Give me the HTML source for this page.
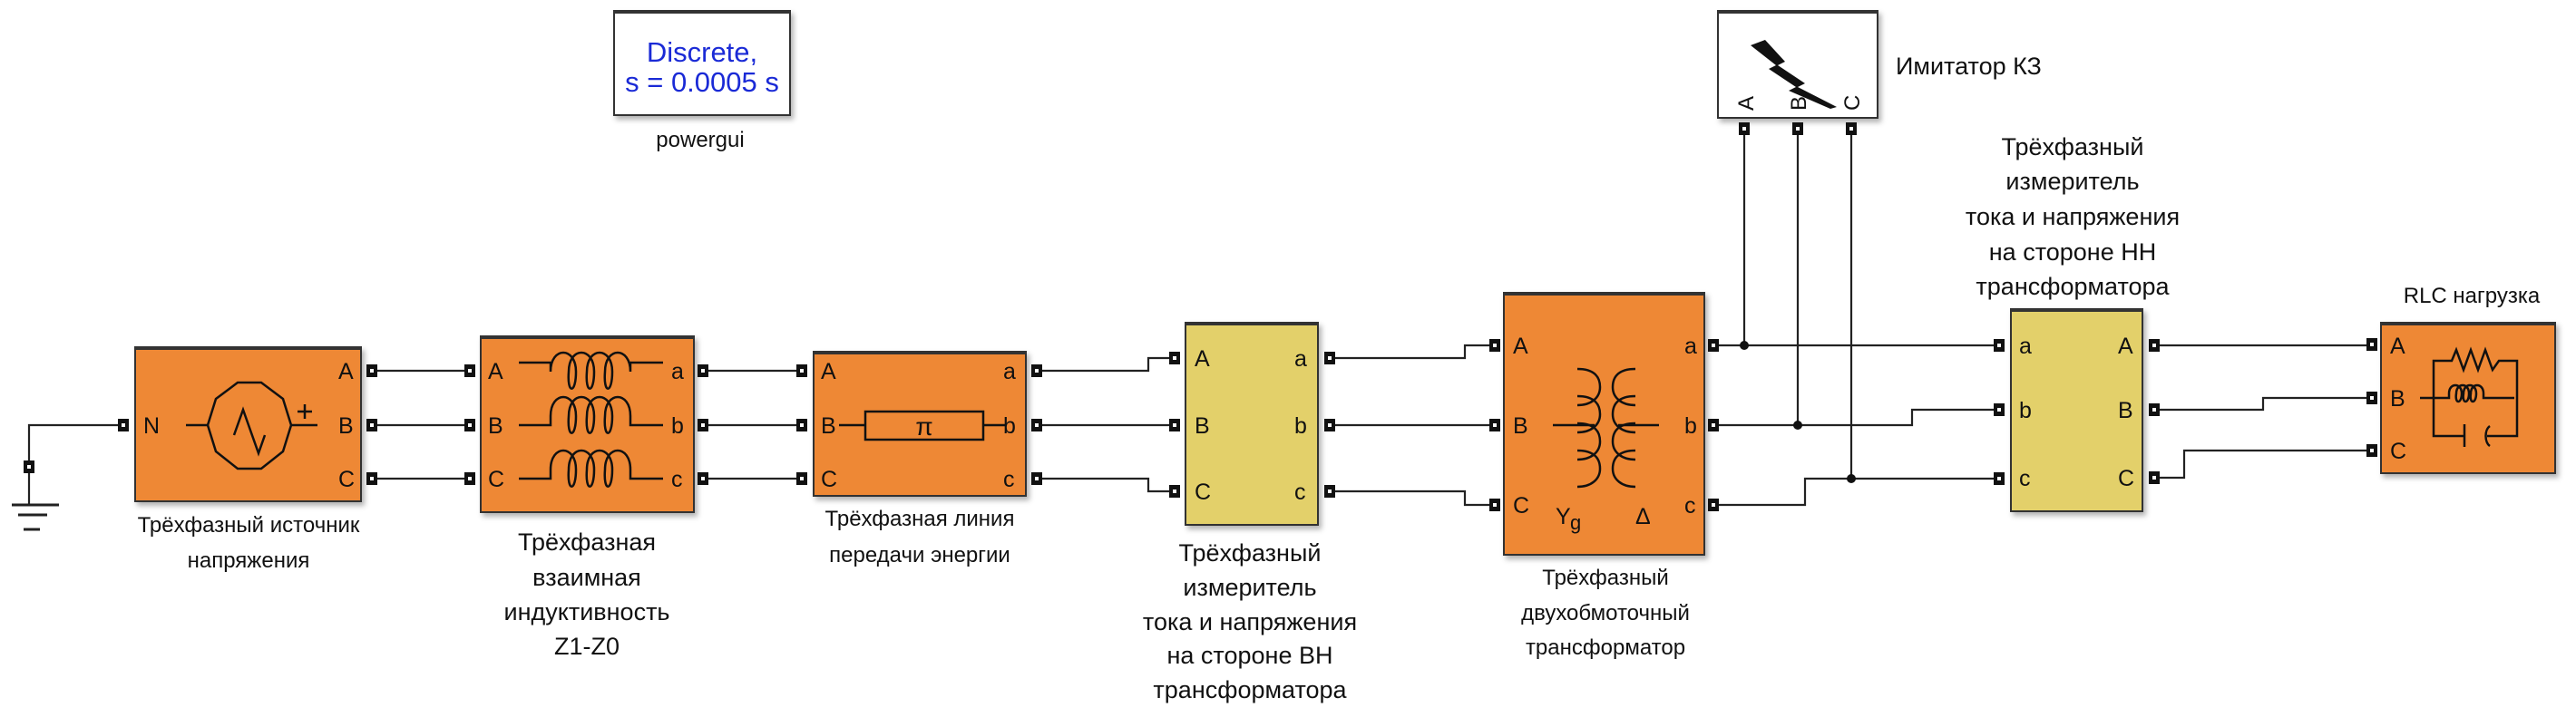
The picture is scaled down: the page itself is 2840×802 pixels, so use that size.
<!DOCTYPE html>
<html><head><meta charset="utf-8"><style>
html,body{margin:0;padding:0;background:#fff;}
svg{display:block;}
text{font-family:"Liberation Sans","DejaVu Sans",sans-serif;fill:#111;}
.lbl{font-size:24px;text-anchor:middle;}
.big{font-size:27px;text-anchor:middle;}
.pl{font-size:25px;}
</style></head><body>
<svg width="2840" height="802" viewBox="0 0 2840 802" xmlns="http://www.w3.org/2000/svg">
<defs>
<filter id="sh" x="-10%" y="-10%" width="130%" height="130%"><feDropShadow dx="3" dy="4" stdDeviation="3" flood-color="#000" flood-opacity="0.3"/></filter>
<g id="p"><rect x="-6" y="-7" width="12" height="14" fill="#111"/><rect x="-2" y="-2" width="4" height="4" fill="#fff"/></g>
</defs>

<!-- wires -->
<g stroke="#222" stroke-width="2.2" fill="none">
<polyline points="136,469 32,469 32,515"/>
<line x1="32" y1="522" x2="32" y2="557"/>
<line x1="410" y1="409" x2="518" y2="409"/>
<line x1="410" y1="469" x2="518" y2="469"/>
<line x1="410" y1="528" x2="518" y2="528"/>
<line x1="775" y1="409" x2="884" y2="409"/>
<line x1="775" y1="469" x2="884" y2="469"/>
<line x1="775" y1="528" x2="884" y2="528"/>
<polyline points="1143,409 1266,409 1266,395 1295,395"/>
<line x1="1143" y1="469" x2="1295" y2="469"/>
<polyline points="1143,528 1266,528 1266,542 1295,542"/>
<polyline points="1466,395 1615,395 1615,381 1648,381"/>
<line x1="1466" y1="469" x2="1648" y2="469"/>
<polyline points="1466,542 1615,542 1615,557 1648,557"/>
<line x1="1889" y1="381" x2="2204" y2="381"/>
<polyline points="1889,469 2108,469 2108,452 2204,452"/>
<polyline points="1889,557 1990,557 1990,528 2204,528"/>
<line x1="1923" y1="148" x2="1923" y2="381"/>
<line x1="1982" y1="148" x2="1982" y2="469"/>
<line x1="2041" y1="148" x2="2041" y2="528"/>
<line x1="2375" y1="381" x2="2615" y2="381"/>
<polyline points="2375,452 2495,452 2495,439 2615,439"/>
<polyline points="2375,527 2408,527 2408,497 2615,497"/>
</g>
<g fill="#111"><circle cx="1923" cy="381" r="5"/><circle cx="1982" cy="469" r="5"/><circle cx="2041" cy="528" r="5"/></g>
<!-- ground -->
<g stroke="#222" stroke-width="3"><line x1="13" y1="557" x2="65" y2="557"/><line x1="20" y1="568" x2="52" y2="568"/><line x1="26" y1="584" x2="44" y2="584"/></g>
<use href="#p" x="32" y="515"/>

<!-- powergui -->
<rect x="677" y="12" width="194" height="115" fill="#fff" stroke="#333" stroke-width="2" filter="url(#sh)"/>
<rect x="677" y="11" width="194" height="4" fill="#333"/>
<svg x="678" y="13" width="192" height="113"><text x="96" y="55" style="font-size:31px;fill:#1a2ad6;text-anchor:middle">Discrete,</text><text x="96" y="88" style="font-size:31px;fill:#1a2ad6;text-anchor:middle">s = 0.0005 s</text></svg>
<text x="772" y="162" class="lbl">powergui</text>

<!-- fault -->
<rect x="1894" y="12" width="176" height="118" fill="#fff" stroke="#333" stroke-width="2" filter="url(#sh)"/>
<rect x="1894" y="11" width="176" height="4" fill="#333"/>
<polygon points="1930,50 1946,44 1968,68 1960,72 1990,92 1982,96 2025,118 2018,120 1972,100 1980,96 1950,76 1958,72" fill="#111"/>
<text transform="translate(1933,122) rotate(-90)" style="font-size:24px">A</text>
<text transform="translate(1991,122) rotate(-90)" style="font-size:24px">B</text>
<text transform="translate(2050,122) rotate(-90)" style="font-size:24px">C</text>
<use href="#p" x="1923" y="142"/><use href="#p" x="1982" y="142"/><use href="#p" x="2041" y="142"/>
<text x="2090" y="82" style="font-size:27px">Имитатор КЗ</text>

<!-- source -->
<rect x="149" y="383" width="249" height="170" fill="#ee8834" stroke="#333" stroke-width="2" filter="url(#sh)"/>
<rect x="149" y="382" width="249" height="4" fill="#333"/>
<g stroke="#111" stroke-width="2.5" fill="none">
<polygon points="262,422 288,422 312,440 321,469 312,498 288,517 262,517 238,498 229,469 238,440"/>
<line x1="205" y1="469" x2="229" y2="469"/><line x1="321" y1="469" x2="350" y2="469"/>
<path d="M258,480 L268,452 L285,500 L292,480"/>
<line x1="336" y1="446" x2="336" y2="462"/><line x1="328" y1="454" x2="344" y2="454"/>
</g>
<text x="158" y="478" class="pl">N</text>
<text x="373" y="418" class="pl">A</text><text x="373" y="478" class="pl">B</text><text x="373" y="537" class="pl">C</text>
<use href="#p" x="136" y="469"/><use href="#p" x="410" y="409"/><use href="#p" x="410" y="469"/><use href="#p" x="410" y="528"/>
<text x="274" y="587" class="lbl">Трёхфазный источник</text>
<text x="274" y="626" class="lbl">напряжения</text>

<!-- mutual -->
<rect x="530" y="371" width="235" height="194" fill="#ee8834" stroke="#333" stroke-width="2" filter="url(#sh)"/>
<rect x="530" y="370" width="235" height="4" fill="#333"/>
<g stroke="#111" stroke-width="2.5" fill="none">
<path d="M572,400 h35 v10 c0,-28 28,-28 28,0 c0,25 -10,25 -8,0 c0,-28 28,-28 28,0 c0,25 -10,25 -8,0 c0,-28 28,-28 28,0 c0,25 -10,25 -8,0 c0,-28 28,-28 28,0 v-10 h36"/>
<path d="M572,469 h35 v-10 c0,-28 28,-28 28,0 c0,25 -10,25 -8,0 c0,-28 28,-28 28,0 c0,25 -10,25 -8,0 c0,-28 28,-28 28,0 c0,25 -10,25 -8,0 c0,-28 28,-28 28,0 v10 h36"/>
<path d="M572,528 h35 v-10 c0,-28 28,-28 28,0 c0,25 -10,25 -8,0 c0,-28 28,-28 28,0 c0,25 -10,25 -8,0 c0,-28 28,-28 28,0 c0,25 -10,25 -8,0 c0,-28 28,-28 28,0 v10 h36"/>
</g>
<text x="538" y="418" class="pl">A</text><text x="538" y="478" class="pl">B</text><text x="538" y="537" class="pl">C</text>
<text x="740" y="418" class="pl">a</text><text x="740" y="478" class="pl">b</text><text x="740" y="537" class="pl">c</text>
<use href="#p" x="518" y="409"/><use href="#p" x="518" y="469"/><use href="#p" x="518" y="528"/>
<use href="#p" x="775" y="409"/><use href="#p" x="775" y="469"/><use href="#p" x="775" y="528"/>
<text x="647" y="607" class="big">Трёхфазная</text>
<text x="647" y="646" class="big">взаимная</text>
<text x="647" y="684" class="big">индуктивность</text>
<text x="647" y="722" class="big">Z1-Z0</text>

<!-- line -->
<rect x="897" y="388" width="234" height="159" fill="#ee8834" stroke="#333" stroke-width="2" filter="url(#sh)"/>
<rect x="897" y="387" width="234" height="4" fill="#333"/>
<g stroke="#111" stroke-width="2.5" fill="none"><rect x="954" y="454" width="130" height="31"/><line x1="925" y1="469" x2="954" y2="469"/><line x1="1084" y1="469" x2="1108" y2="469"/></g>
<text x="1019" y="480" style="font-size:28px;text-anchor:middle">π</text>
<text x="905" y="418" class="pl">A</text><text x="905" y="478" class="pl">B</text><text x="905" y="537" class="pl">C</text>
<text x="1106" y="418" class="pl">a</text><text x="1106" y="478" class="pl">b</text><text x="1106" y="537" class="pl">c</text>
<use href="#p" x="884" y="409"/><use href="#p" x="884" y="469"/><use href="#p" x="884" y="528"/>
<use href="#p" x="1143" y="409"/><use href="#p" x="1143" y="469"/><use href="#p" x="1143" y="528"/>
<text x="1014" y="580" class="lbl">Трёхфазная линия</text>
<text x="1014" y="620" class="lbl">передачи энергии</text>

<!-- VH meter -->
<rect x="1307" y="356" width="146" height="223" fill="#e3d06a" stroke="#333" stroke-width="2" filter="url(#sh)"/>
<rect x="1307" y="355" width="146" height="4" fill="#333"/>
<text x="1317" y="404" class="pl">A</text><text x="1317" y="478" class="pl">B</text><text x="1317" y="551" class="pl">C</text>
<text x="1427" y="404" class="pl">a</text><text x="1427" y="478" class="pl">b</text><text x="1427" y="551" class="pl">c</text>
<use href="#p" x="1295" y="395"/><use href="#p" x="1295" y="469"/><use href="#p" x="1295" y="542"/>
<use href="#p" x="1466" y="395"/><use href="#p" x="1466" y="469"/><use href="#p" x="1466" y="542"/>
<text x="1378" y="619" class="big">Трёхфазный</text>
<text x="1378" y="657" class="big">измеритель</text>
<text x="1378" y="695" class="big">тока и напряжения</text>
<text x="1378" y="732" class="big">на стороне ВН</text>
<text x="1378" y="770" class="big">трансформатора</text>

<!-- transformer -->
<rect x="1658" y="323" width="221" height="289" fill="#ee8834" stroke="#333" stroke-width="2" filter="url(#sh)"/>
<rect x="1658" y="322" width="221" height="4" fill="#333"/>
<g stroke="#111" stroke-width="2.5" fill="none">
<path d="M1739,407 c20,0 25,10 25,20 c0,12 -10,20 -25,20 M1739,437 c20,0 25,10 25,20 c0,12 -10,20 -25,20 M1739,467 c20,0 25,10 25,20 c0,12 -10,20 -25,20 M1739,497 c20,0 25,10 25,20 c0,12 -10,20 -25,20"/>
<path d="M1803,407 c-20,0 -25,10 -25,20 c0,12 10,20 25,20 M1803,437 c-20,0 -25,10 -25,20 c0,12 10,20 25,20 M1803,467 c-20,0 -25,10 -25,20 c0,12 10,20 25,20 M1803,497 c-20,0 -25,10 -25,20 c0,12 10,20 25,20"/>
<line x1="1712" y1="469" x2="1758" y2="469"/><line x1="1784" y1="469" x2="1829" y2="469"/>
</g>
<text x="1668" y="390" class="pl">A</text><text x="1668" y="478" class="pl">B</text><text x="1668" y="566" class="pl">C</text>
<text x="1857" y="390" class="pl">a</text><text x="1857" y="478" class="pl">b</text><text x="1857" y="566" class="pl">c</text>
<text x="1715" y="578" style="font-size:25px">Y</text><text x="1731" y="584" style="font-size:22px">g</text>
<text x="1803" y="578" style="font-size:25px">Δ</text>
<use href="#p" x="1648" y="381"/><use href="#p" x="1648" y="469"/><use href="#p" x="1648" y="557"/>
<use href="#p" x="1889" y="381"/><use href="#p" x="1889" y="469"/><use href="#p" x="1889" y="557"/>
<text x="1770" y="645" class="lbl">Трёхфазный</text>
<text x="1770" y="684" class="lbl">двухобмоточный</text>
<text x="1770" y="722" class="lbl">трансформатор</text>

<!-- NN meter -->
<rect x="2217" y="341" width="145" height="223" fill="#e3d06a" stroke="#333" stroke-width="2" filter="url(#sh)"/>
<rect x="2217" y="340" width="145" height="4" fill="#333"/>
<text x="2226" y="390" class="pl">a</text><text x="2226" y="461" class="pl">b</text><text x="2226" y="536" class="pl">c</text>
<text x="2335" y="390" class="pl">A</text><text x="2335" y="461" class="pl">B</text><text x="2335" y="536" class="pl">C</text>
<use href="#p" x="2204" y="381"/><use href="#p" x="2204" y="452"/><use href="#p" x="2204" y="528"/>
<use href="#p" x="2375" y="381"/><use href="#p" x="2375" y="452"/><use href="#p" x="2375" y="527"/>
<text x="2285" y="171" class="big">Трёхфазный</text>
<text x="2285" y="209" class="big">измеритель</text>
<text x="2285" y="248" class="big">тока и напряжения</text>
<text x="2285" y="287" class="big">на стороне НН</text>
<text x="2285" y="325" class="big">трансформатора</text>

<!-- RLC -->
<rect x="2625" y="356" width="192" height="166" fill="#ee8834" stroke="#333" stroke-width="2" filter="url(#sh)"/>
<rect x="2625" y="355" width="192" height="4" fill="#333"/>
<g stroke="#111" stroke-width="2.5" fill="none">
<polyline points="2683,439 2683,398 2703,398 2708,386 2716,408 2724,386 2732,408 2740,386 2748,408 2755,398 2775,398 2775,481 2742,481"/>
<polyline points="2683,439 2683,481 2717,481"/>
<line x1="2717" y1="468" x2="2717" y2="493"/><path d="M2745,470 c-6,4 -6,18 0,22"/>
<path d="M2668,439 h32 v-5 c0,-12 14,-12 14,0 c0,12 -8,12 -6,0 c0,-12 14,-12 14,0 c0,12 -8,12 -6,0 c0,-12 14,-12 14,0 c0,12 -8,12 -6,0 c0,-12 14,-12 14,0 v5 h34"/>
</g>
<text x="2635" y="390" class="pl">A</text><text x="2635" y="448" class="pl">B</text><text x="2635" y="506" class="pl">C</text>
<use href="#p" x="2615" y="380"/><use href="#p" x="2615" y="439"/><use href="#p" x="2615" y="497"/>
<text x="2725" y="334" class="lbl">RLC нагрузка</text>
</svg>
</body></html>
